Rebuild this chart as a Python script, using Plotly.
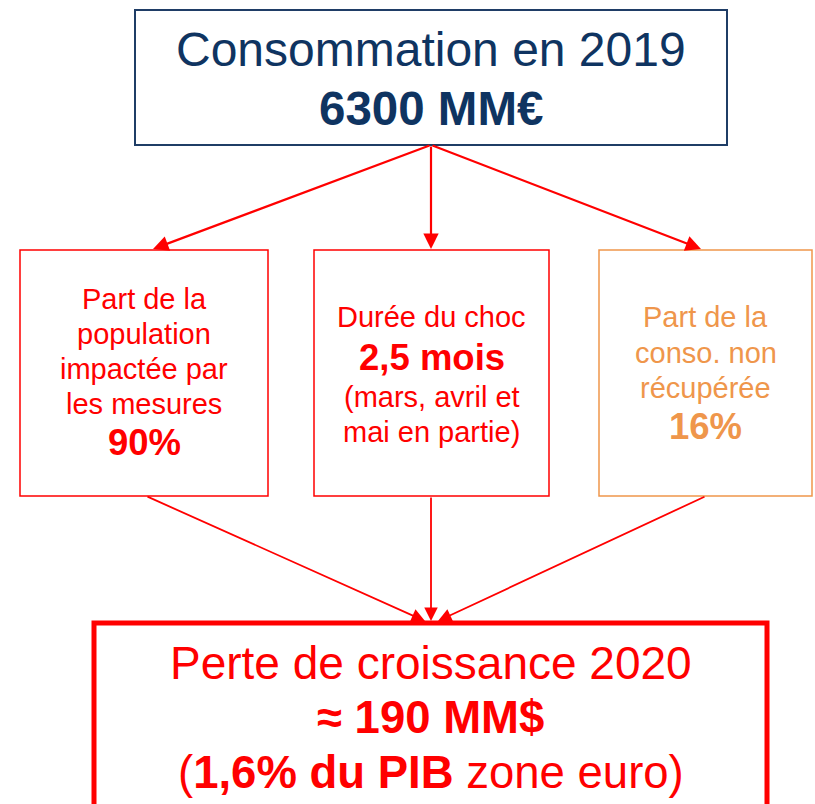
import plotly.graph_objects as go

# ---- content ----
top_title = "Consommation en 2019"
consumption_value = "6300 MM€"
factor_texts = [
    ["Part de la", "population", "impactée par", "les mesures"],
    ["Durée du choc"],
    ["Part de la", "conso. non", "récupérée"],
]
factor_values = ["90%", "2,5 mois", "16%"]
factor_notes = [[], ["(mars, avril et", "mai en partie)"], []]
result_title = "Perte de croissance 2020"
result_value = "≈ 190 MM$"
result_note = "(<b>1,6% du PIB</b> zone euro)"

NAVY = "#0F3461"
NAVY_BORDER = "#1F3D66"
RED = "#FF0000"
ORANGE = "#EF964B"
FONT = "Liberation Sans, Arial, sans-serif"

W, H = 815, 804
fig = go.Figure()

# boxes (x0, y0, x1, y1)
top_box = (135, 10, 727, 145)
mid_boxes = [(20, 250, 268, 496), (314, 250, 549, 496), (599, 250, 812, 496)]
mid_colors = [RED, RED, ORANGE]
bottom_box = (94, 623, 767, 840)

shapes = []
shapes.append(dict(type="rect", x0=top_box[0], y0=top_box[1], x1=top_box[2], y1=top_box[3],
                   line=dict(color=NAVY_BORDER, width=2), xref="x", yref="y"))
for (x0, y0, x1, y1), c in zip(mid_boxes, mid_colors):
    shapes.append(dict(type="rect", x0=x0, y0=y0, x1=x1, y1=y1,
                       line=dict(color=c, width=1.5), xref="x", yref="y"))
shapes.append(dict(type="rect", x0=bottom_box[0], y0=bottom_box[1], x1=bottom_box[2], y1=bottom_box[3],
                   line=dict(color=RED, width=5), xref="x", yref="y"))

annotations = []

def txt(x, y, s, size, color, bold=False):
    annotations.append(dict(x=x, y=y, xref="x", yref="y", text=(f"<b>{s}</b>" if bold else s),
                            showarrow=False, xanchor="center", yanchor="middle",
                            font=dict(family=FONT, size=size, color=color)))

def arrow(x0, y0, x1, y1, width=2, size=1.4):
    annotations.append(dict(x=x1, y=y1, ax=x0, ay=y0, xref="x", yref="y", axref="x", ayref="y",
                            text="", showarrow=True, arrowhead=2, arrowsize=size, arrowwidth=width,
                            arrowcolor=RED, standoff=0, startstandoff=0))

cx_top = (top_box[0] + top_box[2]) / 2
txt(cx_top, 49, top_title, 48, NAVY)
txt(cx_top, 108, consumption_value, 47.5, NAVY, bold=True)

# middle boxes text
mid_centers = [(b[0] + b[2]) / 2 for b in mid_boxes]
mid_lines_y = [
    [299, 334, 369, 404],
    [316.5],
    [316.5, 352.5, 388],
]
value_y = [442, 357, 426.5]
notes_y = [[], [397, 432], []]
for i in range(3):
    for s, y in zip(factor_texts[i], mid_lines_y[i]):
        txt(mid_centers[i], y, s, 29, mid_colors[i])
    txt(mid_centers[i], value_y[i], factor_values[i], 36.5, mid_colors[i], bold=True)
    for s, y in zip(factor_notes[i], notes_y[i]):
        txt(mid_centers[i], y, s, 29, mid_colors[i])

# bottom
cx_bot = (bottom_box[0] + bottom_box[2]) / 2
txt(cx_bot, 662.5, result_title, 46, RED)
txt(cx_bot, 717, result_value, 45.5, RED, bold=True)
txt(cx_bot, 772, result_note, 45.5, RED)

# arrows from top box to middle boxes
src = (431, 145)
for hx in [153, 431, 701]:
    arrow(src[0], src[1], hx, 249, width=2.2, size=1.4)
# arrows from middle boxes to bottom box
for tx, hx in zip([146, 431, 706], [425, 431, 438]):
    arrow(tx, 496, hx, 621, width=1.8, size=1.5)

fig.update_layout(
    width=W, height=H,
    margin=dict(l=0, r=0, t=0, b=0),
    paper_bgcolor="white", plot_bgcolor="white",
    xaxis=dict(range=[0, W], visible=False, fixedrange=True),
    yaxis=dict(range=[H, 0], visible=False, fixedrange=True),
    shapes=shapes, annotations=annotations, showlegend=False,
)

fig.write_html(
    "out.html",
    config={"displayModeBar": False},
    post_script="document.body.style.margin='0';document.body.style.overflow='hidden';",
)
